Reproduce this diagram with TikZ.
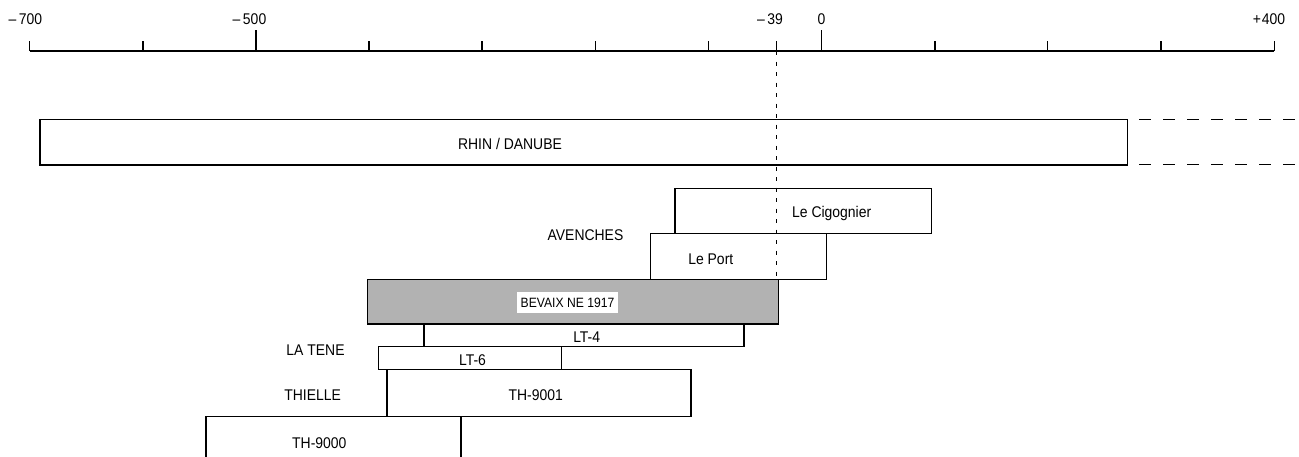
\documentclass[tikz,border=0pt]{standalone}
\usepackage{fontspec}
\setmainfont{Liberation Sans}[FakeStretch=0.9]
\begin{document}
\begin{tikzpicture}[x=1pt,y=-1pt,line width=1.2pt,
  lab/.style={font=\fontsize{15.5}{18}\selectfont,inner sep=0pt,anchor=base},
  axlab/.style={font=\fontsize{15.5}{18}\selectfont,inner sep=0pt,anchor=base},
  bar/.style={draw=black,line width=1.2pt},
  shaded/.style={draw=black,line width=1.2pt,fill=black!30},
  cont/.style={line width=1.2pt,dash pattern=on 12pt off 12pt},
  guide/.style={line width=0.8pt,dash pattern=on 4pt off 6.5pt}]
\useasboundingbox (0,0) rectangle (1299,456);

% axis
\coordinate (axL) at (29.5,51);
\coordinate (axR) at (1274.3,51);
\draw (axL) -- (axR);
\foreach \x in {29.5,143,256,369,482,595.7,708.3,776.7,935,1047.7,1161,1274.3}
  \draw (\x,51) -- (\x,40.5);
\foreach \x in {256,821.7}
  \draw (\x,51) -- (\x,29.5);

\node[axlab] (l700) at (25.5,24) {–\hspace{2.5pt}700};
\node[axlab] (l500) at (249.5,24) {–\hspace{2.5pt}500};
\node[axlab] (l39) at (770,24) {–\hspace{2.5pt}39};
\node[axlab] (l0) at (821.5,24) {0};
\node[axlab] (l400) at (1269,24) {+\hspace{1pt}400};

% dashed guide at -39
\coordinate (gTop) at (776.7,51);
\coordinate (gBot) at (776.7,279.3);
\draw[guide] (gTop) -- (gBot);

% RHIN / DANUBE
\draw[bar] (40,119.3) rectangle (1127.7,165);
\draw[cont] (1139,119.3) -- (1305,119.3);
\draw[cont] (1139,164.5) -- (1305,164.5);
\node[lab] (rhin) at (510,149.5) {RHIN / DANUBE};

% Avenches
\draw[bar] (675,188.3) rectangle (931.7,233.3);
\node[lab] (cig) at (831.7,217) {Le Cigognier};
\draw[bar] (650.7,233.3) rectangle (826.7,279.3);
\node[lab] (port) at (710.8,264) {Le Port};
\node[lab] (aven) at (585.5,240.7) {AVENCHES};

% Bevaix
\draw[shaded] (367.7,279.3) rectangle (778.3,324);
\node[fill=white,inner sep=0pt,minimum width=101.6pt,minimum height=21.6pt,
  font=\fontsize{13.5}{16}\selectfont] (bev) at (567.5,302.5) {BEVAIX NE 1917};

% La Tene
\draw[bar] (424,324) rectangle (744,346.7);
\node[lab] (lt4) at (586.7,342.7) {LT-4};
\draw[bar] (378.5,346.7) rectangle (561.5,369.5);
\node[lab] (lt6) at (472.5,365) {LT-6};
\node[lab] (latene) at (315.5,355) {LA TENE};

% Thielle
\draw[bar] (387,369.5) rectangle (691,416.4);
\node[lab] (th1) at (535.7,400.8) {TH-9001};
\node[lab] (thielle) at (312.7,400.8) {THIELLE};
\draw[bar] (206,462) -- (206,416.4) -- (461,416.4) -- (461,462);
\node[lab] (th0) at (319.3,448.6) {TH-9000};
\end{tikzpicture}
\end{document}
